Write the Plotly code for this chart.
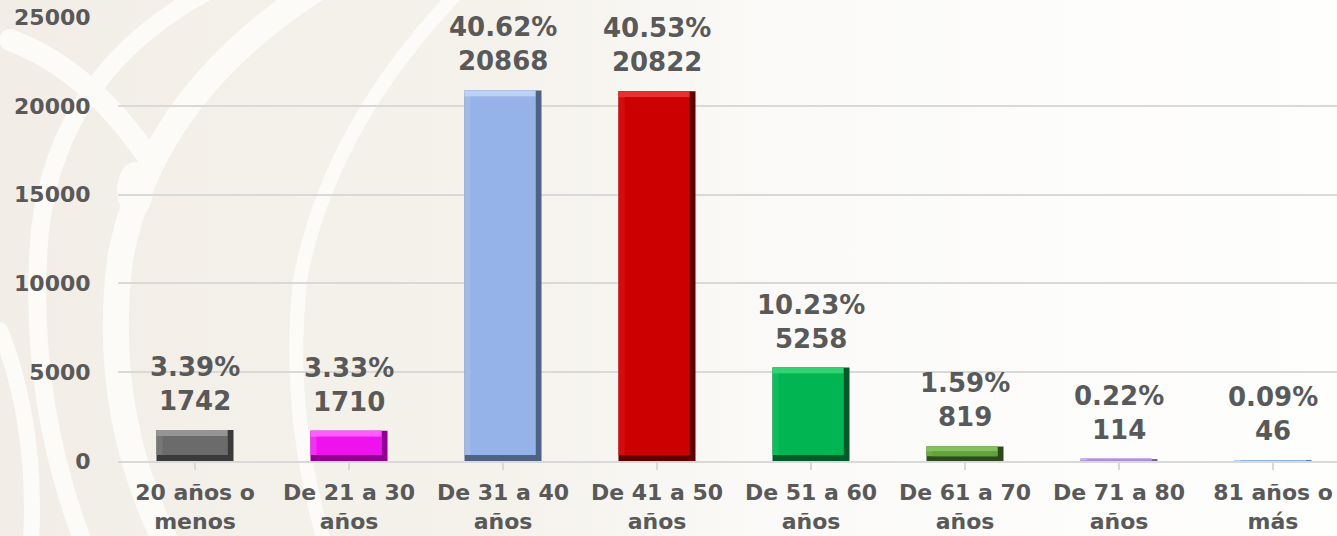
import base64
import plotly.graph_objects as go

categories = ["20 años o<br>menos", "De 21 a 30<br>años", "De 31 a 40<br>años", "De 41 a 50<br>años",
              "De 51 a 60<br>años", "De 61 a 70<br>años", "De 71 a 80<br>años", "81 años o<br>más"]
values = [1742, 1710, 20868, 20822, 5258, 819, 114, 46]
percents = ["3.39%", "3.33%", "40.62%", "40.53%", "10.23%", "1.59%", "0.22%", "0.09%"]
y_ticks = [0, 5000, 10000, 15000, 20000, 25000]
y_tick_labels = ["0", "5000", "10000", "15000", "20000", "25000"]

main_colors = ["#6b6b6b", "#ee12ee", "#95b3e8", "#cc0000", "#00b552", "#62a33c", "#b08fd4", "#8fb5e4"]
side_colors = ["#777777", "#f430f4", "#a0bbea", "#d60c0c", "#10bd5c", "#6bab45", "#b99ada", "#9abde8"]
light_colors = ["#959595", "#ff5cff", "#bcd2f4", "#e93030", "#33d373", "#85c25e", "#cbb2e8", "#b6cff0"]
dark_colors = ["#3a3a3a", "#920092", "#4e6384", "#600000", "#005a2a", "#2d4a1c", "#7d5ea0", "#5a7faa"]

W = 1337
H = 536
ML, MR, MT, MB = 118, 0, 17, 75
plot_w = W - ML - MR
plot_h = H - MT - MB
cat_px = 154.0
x_span = plot_w / cat_px
y_max = y_ticks[-1]

bar_w = 0.5
bx = 6.0 / cat_px
val_per_px = y_max / plot_h
by_full = 6.0 * val_per_px
by = [min(by_full, v / 3.0) for v in values]
xs = list(range(len(categories)))

TXT = "#595959"
FONT = "DejaVu Sans"

fig = go.Figure()
# dark full bar (right/bottom bevel)
fig.add_trace(go.Bar(x=xs, y=values, width=bar_w, marker=dict(color=dark_colors, line=dict(width=0)),
                     hoverinfo="skip", showlegend=False))
# left bevel
fig.add_trace(go.Bar(x=xs, y=[v - b for v, b in zip(values, by)], base=by, width=bar_w - bx,
                     offset=-bar_w / 2, marker=dict(color=side_colors, line=dict(width=0)),
                     hoverinfo="skip", showlegend=False))
# top bevel
fig.add_trace(go.Bar(x=xs, y=by, base=[v - b for v, b in zip(values, by)], width=bar_w - bx,
                     offset=-bar_w / 2, marker=dict(color=light_colors, line=dict(width=0)),
                     hoverinfo="skip", showlegend=False))
# main face
fig.add_trace(go.Bar(x=xs, y=[max(v - 2 * b, 0) for v, b in zip(values, by)], base=by,
                     width=bar_w - 2 * bx, offset=-bar_w / 2 + bx,
                     marker=dict(color=main_colors, line=dict(width=0)),
                     hoverinfo="skip", showlegend=False))

for x, v, p in zip(xs, values, percents):
    fig.add_annotation(x=x, y=v, text=f"{p}<br>{v}", showarrow=False, yanchor="bottom",
                       yshift=12, font=dict(family=FONT, size=26, color=TXT, weight="bold"))

svg = f'''<svg xmlns="http://www.w3.org/2000/svg" width="{W}" height="{H}" viewBox="0 0 {W} {H}">
<defs><linearGradient id="g" x1="0" x2="1" y1="0" y2="0">
<stop offset="0" stop-color="#f2eee7"/><stop offset="0.38" stop-color="#f5f2ec"/>
<stop offset="0.58" stop-color="#fbfaf8"/><stop offset="1" stop-color="#fefefd"/></linearGradient></defs>
<rect width="{W}" height="{H}" fill="url(#g)"/>
<g fill="none" stroke="#fcfbf8" stroke-linecap="round">
<path d="M 330 -20 Q 150 90 120 260 Q 100 420 175 560" stroke-width="26"/>
<path d="M 230 -20 Q 60 60 40 230 Q 25 400 90 560" stroke-width="18"/>
<path d="M 10 40 Q 90 70 150 160" stroke-width="22"/>
<path d="M 470 -20 Q 330 120 300 280 Q 285 420 330 560" stroke-width="14"/>
<path d="M 0 330 Q 40 430 30 560" stroke-width="16"/>
</g>
<ellipse cx="135" cy="190" rx="18" ry="28" fill="#fcfbf8"/>
</svg>'''
src = "data:image/svg+xml;base64," + base64.b64encode(svg.encode()).decode()
fig.add_layout_image(source=src, xref="paper", yref="paper", x=-ML / plot_w, y=1 + MT / plot_h,
                     sizex=W / plot_w, sizey=H / plot_h, xanchor="left", yanchor="top",
                     sizing="stretch", layer="below")

fig.update_layout(
    width=W, height=H, margin=dict(l=ML, r=MR, t=MT, b=MB),
    barmode="overlay", bargap=0.5,
    paper_bgcolor="#fbfaf7", plot_bgcolor="rgba(0,0,0,0)",
    font=dict(family=FONT, color=TXT),
    xaxis=dict(range=[-0.5, -0.5 + x_span], tickmode="array", tickvals=xs, ticktext=categories,
               showgrid=False, showline=True, linecolor="#d9d9d9", linewidth=1.5,
               ticks="outside", ticklen=7, tickcolor="#d9d9d9", tickwidth=1.5, tickson="boundaries",
               ticklabelstandoff=4,
               tickfont=dict(family=FONT, size=22, color=TXT, weight="bold"), zeroline=False,
               fixedrange=True),
    yaxis=dict(range=[0, y_max], tickmode="array", tickvals=y_ticks, ticktext=y_tick_labels,
               showgrid=True, gridcolor="#d9d9d9", gridwidth=1.5,
               zeroline=False, ticks="outside", ticklen=22, tickcolor="rgba(0,0,0,0)",
               tickfont=dict(family=FONT, size=22, color=TXT, weight="bold"), fixedrange=True),
)

fig.write_html("out.html", post_script="document.body.style.margin='0px';",
               config={"displayModeBar": False})
